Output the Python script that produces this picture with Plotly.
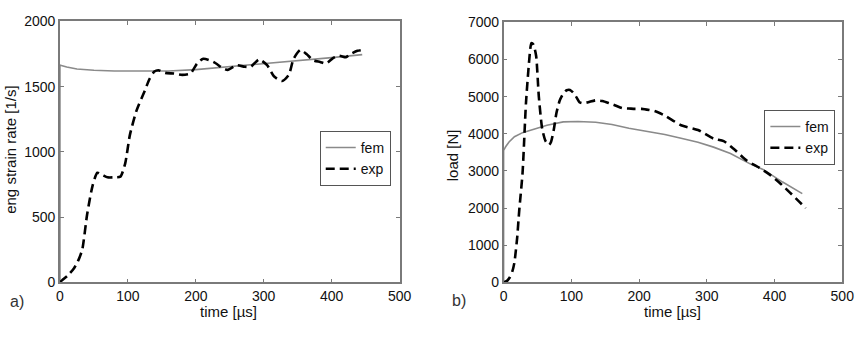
import plotly.graph_objects as go

# ---------------- data (a): eng strain rate ----------------
t_fem_a = [0, 0, 2, 10, 25, 50, 80, 120, 160, 200, 250, 300, 350, 400, 445]
v_fem_a = [0, 1665, 1662, 1650, 1635, 1625, 1620, 1620, 1620, 1630, 1652, 1676, 1700, 1722, 1745]

t_exp_a = [0, 3, 12, 21, 28, 33, 40, 48, 55, 62, 70, 80, 89, 96, 103, 113, 125, 132, 139, 145,
           155, 168, 180, 192, 202, 211, 226, 240, 247, 260, 272, 281, 293, 305, 315, 327, 337,
           344, 354, 363, 373, 383, 392, 402, 411, 421, 428, 438, 445]
v_exp_a = [0, 15, 55, 110, 180, 255, 520, 740, 840, 825, 805, 805, 810, 910, 1130, 1320, 1470, 1560, 1615, 1625,
           1605, 1600, 1590, 1600, 1677, 1713, 1689, 1640, 1628, 1664, 1652, 1652, 1708, 1664, 1579, 1543, 1591,
           1713, 1781, 1750, 1701, 1689, 1677, 1718, 1737, 1725, 1750, 1774, 1781]

# ---------------- data (b): load ----------------
t_fem_b = [0, 0, 3, 8, 16, 28, 41, 64, 88, 110, 136, 160, 185, 210, 238, 262, 287, 310, 335, 364, 383, 412, 441]
v_fem_b = [0, 3550, 3650, 3780, 3920, 4030, 4100, 4230, 4320, 4330, 4310, 4250, 4150, 4070, 3980, 3880, 3770,
           3640, 3470, 3190, 3040, 2700, 2390]

t_exp_b = [0, 5, 9, 13, 16, 20, 23, 28, 33, 38, 41, 44, 48, 52, 57, 62, 67, 70, 74, 78, 83, 88, 93, 98,
           103, 107, 112, 117, 125, 136, 146, 156, 165, 175, 185, 194, 204, 215, 223, 238, 262, 287, 310,
           325, 340, 359, 378, 393, 407, 422, 436, 446]
v_exp_b = [0, 40, 130, 300, 540, 1200, 1920, 2950, 4820, 6020, 6440, 6400, 6100, 5000, 4130, 3800, 3700, 3780,
           4100, 4560, 4900, 5080, 5170, 5180, 5100, 5000, 4850, 4820, 4850, 4900, 4880, 4820, 4760, 4690,
           4680, 4670, 4670, 4640, 4610, 4490, 4230, 4100, 3870, 3800, 3590, 3280, 3080, 2900, 2690, 2430,
           2180, 2000]

x_ticks = [0, 100, 200, 300, 400, 500]
y_ticks_a = [0, 500, 1000, 1500, 2000]
y_ticks_b = [0, 1000, 2000, 3000, 4000, 5000, 6000, 7000]

FONT = "Liberation Sans, Arial, sans-serif"
GRAY = "#8a8a8a"
AX = "#7a7a7a"
TXT = "#111111"

fig = go.Figure()
fig.add_trace(go.Scatter(x=t_fem_a, y=v_fem_a, mode="lines", name="fem",
                         line=dict(color=GRAY, width=1.6), xaxis="x", yaxis="y", legend="legend"))
fig.add_trace(go.Scatter(x=t_exp_a, y=v_exp_a, mode="lines", name="exp",
                         line=dict(color="black", width=2.6, dash="9px,5px", shape="spline", smoothing=0.6),
                         xaxis="x", yaxis="y", legend="legend"))
fig.add_trace(go.Scatter(x=t_fem_b, y=v_fem_b, mode="lines", name="fem",
                         line=dict(color=GRAY, width=1.6), xaxis="x2", yaxis="y2", legend="legend2"))
fig.add_trace(go.Scatter(x=t_exp_b, y=v_exp_b, mode="lines", name="exp",
                         line=dict(color="black", width=2.6, dash="9px,5px", shape="spline", smoothing=0.6),
                         xaxis="x2", yaxis="y2", legend="legend2"))

W, H = 867, 338
def px(x):
    return x / W
def py(y):
    return (H - y) / H

axis_common = dict(showline=True, linecolor=AX, linewidth=1.5, mirror="ticks", ticks="inside",
                   ticklen=4, tickcolor=AX, tickwidth=1, showgrid=False, zeroline=False,
                   tickfont=dict(family=FONT, size=14, color=TXT), fixedrange=True)

fig.update_layout(
    width=W, height=H, autosize=False,
    margin=dict(l=0, r=0, t=0, b=0),
    paper_bgcolor="white", plot_bgcolor="white",
    xaxis=dict(domain=[px(57), px(403)], range=[0, 500], tickvals=x_ticks, anchor="y", **axis_common),
    yaxis=dict(domain=[py(288), py(14)], range=[0, 2000], tickvals=y_ticks_a, anchor="x", **axis_common),
    xaxis2=dict(domain=[px(509), px(854)], range=[0, 500], tickvals=x_ticks, anchor="y2", **axis_common),
    yaxis2=dict(domain=[py(288), py(15)], range=[0, 7000], tickvals=y_ticks_b, anchor="x2", **axis_common),
    legend=dict(x=px(394), y=py(129), xanchor="right", yanchor="top", bgcolor="white",
                bordercolor="#555555", borderwidth=1, font=dict(family=FONT, size=14, color=TXT),
                tracegroupgap=0, itemclick=False),
    legend2=dict(x=px(847), y=py(107), xanchor="right", yanchor="top", bgcolor="white",
                 bordercolor="#555555", borderwidth=1, font=dict(family=FONT, size=14, color=TXT),
                 tracegroupgap=0, itemclick=False),
    showlegend=True,
)

ann_font = dict(family=FONT, size=15, color=TXT)
fig.add_annotation(text="time [µs]", x=px(229), y=py(319), xref="paper", yref="paper",
                   showarrow=False, font=ann_font, xanchor="center", yanchor="middle")
fig.add_annotation(text="time [µs]", x=px(681), y=py(319), xref="paper", yref="paper",
                   showarrow=False, font=ann_font, xanchor="center", yanchor="middle")
fig.add_annotation(text="eng strain rate [1/s]", x=px(7), y=py(149), xref="paper", yref="paper",
                   showarrow=False, font=ann_font, textangle=-90, xanchor="center", yanchor="middle")
fig.add_annotation(text="load [N]", x=px(457), y=py(155), xref="paper", yref="paper",
                   showarrow=False, font=ann_font, textangle=-90, xanchor="center", yanchor="middle")
fig.add_annotation(text="a)", x=px(13), y=py(308), xref="paper", yref="paper",
                   showarrow=False, font=dict(family=FONT, size=16, color="#333333"),
                   xanchor="center", yanchor="middle")
fig.add_annotation(text="b)", x=px(464), y=py(307), xref="paper", yref="paper",
                   showarrow=False, font=dict(family=FONT, size=16, color="#333333"),
                   xanchor="center", yanchor="middle")

fig.write_html("out.html")
